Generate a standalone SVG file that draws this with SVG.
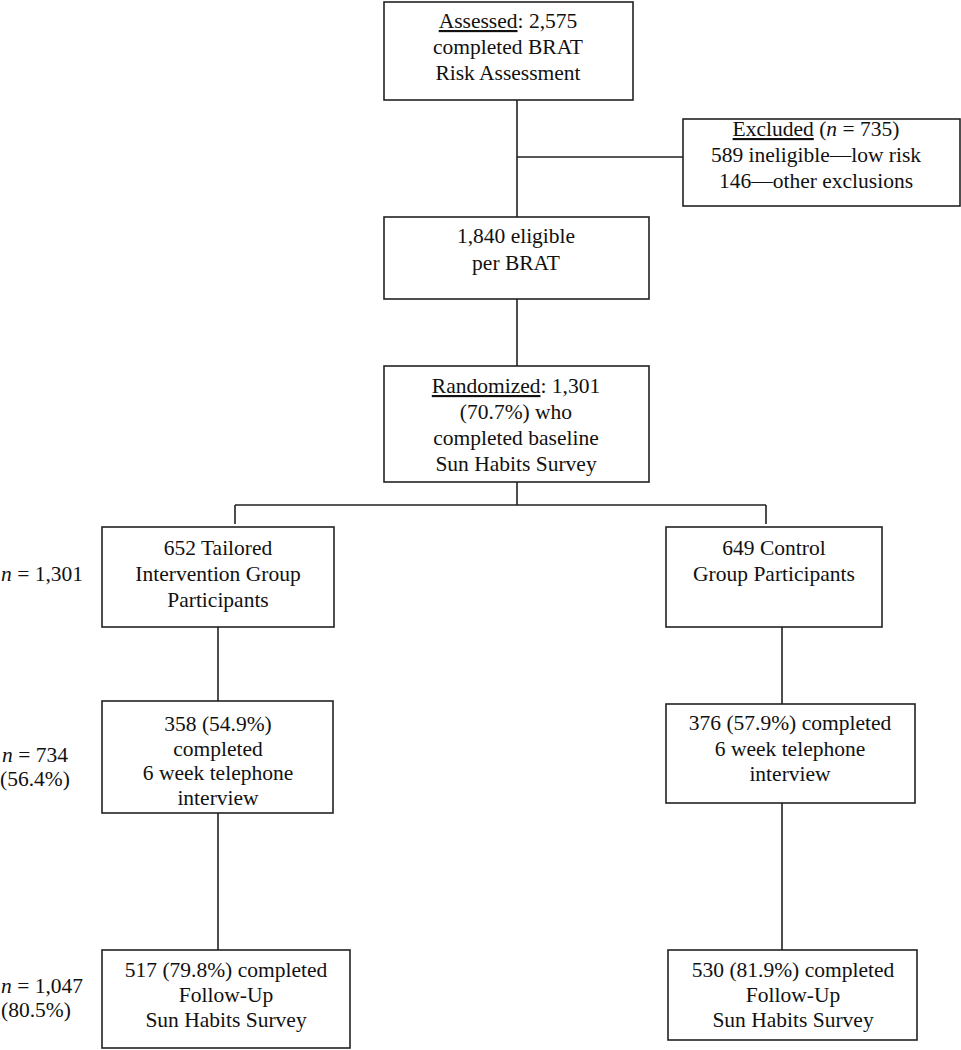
<svg xmlns="http://www.w3.org/2000/svg" width="961" height="1050" viewBox="0 0 961 1050">
<style>
.box{fill:#fff;stroke:#222;stroke-width:1.6}
.ln{stroke:#222;stroke-width:1.6;fill:none}
text{font-family:"Liberation Serif",Tinos,"Noto Serif","DejaVu Serif",FreeSerif,Times,serif;font-size:21.5px;fill:#111}
.c{text-anchor:middle}
.u{text-decoration:underline}
</style>
<rect width="961" height="1050" fill="#fff"/>
<g id="connectors">
<path class="ln" d="M517,100 V217 M517,157 H683 M517,299 V366 M517,482 V505 M235,505 H766 M235,505 V524 M766,505 V524 M218,627 V701 M782,627 V704 M218,813 V950 M782,803 V950"/>
</g>
<g id="assessed">
<rect class="box" x="384" y="2" width="249" height="98"/>
<text class="c" x="508" y="28"><tspan class="u">Assessed</tspan>: 2,575</text>
<text class="c" x="508" y="54">completed BRAT</text>
<text class="c" x="508" y="80">Risk Assessment</text>
</g>
<g id="excluded">
<rect class="box" x="683" y="119" width="277" height="87"/>
<text class="c" x="816" y="136"><tspan class="u">Excluded</tspan> (<tspan font-style="italic">n</tspan> = 735)</text>
<text class="c" x="816" y="162">589 ineligible—low risk</text>
<text class="c" x="816" y="188">146—other exclusions</text>
</g>
<g id="eligible">
<rect class="box" x="384" y="217" width="265" height="82"/>
<text class="c" x="516" y="243">1,840 eligible</text>
<text class="c" x="516" y="270">per BRAT</text>
</g>
<g id="randomized">
<rect class="box" x="384" y="366" width="265" height="116"/>
<text class="c" x="516" y="393"><tspan class="u">Randomized</tspan>: 1,301</text>
<text class="c" x="516" y="419">(70.7%) who</text>
<text class="c" x="516" y="445">completed baseline</text>
<text class="c" x="516" y="471">Sun Habits Survey</text>
</g>
<g id="tailored">
<rect class="box" x="102" y="527" width="232" height="100"/>
<text class="c" x="218" y="555">652 Tailored</text>
<text class="c" x="218" y="581">Intervention Group</text>
<text class="c" x="218" y="607">Participants</text>
</g>
<g id="control">
<rect class="box" x="666" y="527" width="216" height="100"/>
<text class="c" x="774" y="555">649 Control</text>
<text class="c" x="774" y="581">Group Participants</text>
</g>
<g id="label-n1301">
<text x="1" y="581"><tspan font-style="italic">n</tspan> = 1,301</text>
</g>
<g id="tailored-6wk">
<rect class="box" x="102" y="701" width="231" height="112"/>
<text class="c" x="218" y="731">358 (54.9%)</text>
<text class="c" x="218" y="756">completed</text>
<text class="c" x="218" y="780">6 week telephone</text>
<text class="c" x="218" y="805">interview</text>
</g>
<g id="label-n734">
<text class="c" x="35" y="762"><tspan font-style="italic">n</tspan> = 734</text>
<text class="c" x="35" y="786">(56.4%)</text>
</g>
<g id="control-6wk">
<rect class="box" x="666" y="704" width="249" height="99"/>
<text class="c" x="790" y="730">376 (57.9%) completed</text>
<text class="c" x="790" y="756">6 week telephone</text>
<text class="c" x="790" y="781">interview</text>
</g>
<g id="tailored-fu">
<rect class="box" x="102" y="950" width="248" height="98"/>
<text class="c" x="226" y="977">517 (79.8%) completed</text>
<text class="c" x="226" y="1002">Follow-Up</text>
<text class="c" x="226" y="1027">Sun Habits Survey</text>
</g>
<g id="label-n1047">
<text x="1" y="993"><tspan font-style="italic">n</tspan> = 1,047</text>
<text x="1" y="1017">(80.5%)</text>
</g>
<g id="control-fu">
<rect class="box" x="668" y="950" width="249" height="90"/>
<text class="c" x="793" y="977">530 (81.9%) completed</text>
<text class="c" x="793" y="1002">Follow-Up</text>
<text class="c" x="793" y="1027">Sun Habits Survey</text>
</g>
</svg>
